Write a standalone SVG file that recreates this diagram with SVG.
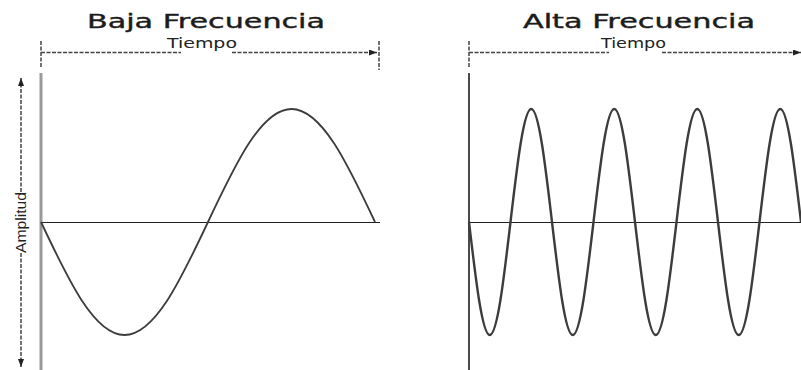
<svg xmlns="http://www.w3.org/2000/svg" width="801" height="370" viewBox="0 0 801 370">
<defs>
<marker id="ah" markerWidth="8" markerHeight="6" refX="8" refY="3" orient="auto" markerUnits="userSpaceOnUse">
<path d="M0,0 L8,3 L0,6 Z" fill="#222"/>
</marker>
<style>
.title{font-family:"DejaVu Sans",Verdana,sans-serif;font-size:20px;fill:#1c1c1c;stroke:#1c1c1c;stroke-width:0.4}
.small{font-family:"DejaVu Sans",Verdana,sans-serif;font-size:13.5px;fill:#222}
.amp{font-family:"Liberation Sans",Arial,sans-serif;font-size:15px;fill:#222}
.dash{stroke:#444;stroke-width:1.5;stroke-dasharray:4 1.5;fill:none}
.axis{stroke:#222;stroke-width:1.2;fill:none}
.wave{fill:none;stroke:#3c3c3c;stroke-linejoin:round}
</style>
</defs>
<rect width="801" height="370" fill="#fff"/>

<g id="titles">
<text class="title" x="87" y="28" textLength="238" lengthAdjust="spacingAndGlyphs">Baja Frecuencia</text>
<text class="title" x="523" y="28" textLength="232" lengthAdjust="spacingAndGlyphs">Alta Frecuencia</text>
</g>

<g id="left-panel">
<line x1="41" y1="41" x2="41" y2="67" class="dash"/>
<line x1="379" y1="41" x2="379" y2="70" class="dash"/>
<line x1="41" y1="73" x2="41" y2="370" stroke="#9a9a9a" stroke-width="3"/>
<line x1="41" y1="222.5" x2="380" y2="222.5" class="axis"/>
<text class="small" x="167" y="48" textLength="70" lengthAdjust="spacingAndGlyphs">Tiempo</text>
<line x1="21" y1="192" x2="21" y2="78" class="dash" stroke-dasharray="3 1.5" marker-end="url(#ah)"/>
<line x1="21" y1="253" x2="21" y2="367" class="dash" stroke-dasharray="3 1.5" marker-end="url(#ah)"/>
<text class="amp" transform="translate(26,222.5) rotate(-90)" text-anchor="middle" textLength="61" lengthAdjust="spacingAndGlyphs">Amplitud</text>
<path class="wave" stroke-width="1.8" d="M41,222 C68.23,279.89 94.28,335 124.5,335 S180.77,279.89 208,222 S261.28,109 291.5,109 S347.77,164.11 375,222"/>
</g>

<g id="right-panel">
<line x1="469" y1="41" x2="469" y2="67" class="dash"/>
<line x1="469" y1="73" x2="469" y2="370" stroke="#4a4a4a" stroke-width="2"/>
<line x1="469" y1="222.5" x2="801" y2="222.5" class="axis"/>
<text class="small" x="601" y="48" textLength="65" lengthAdjust="spacingAndGlyphs">Tiempo</text>
<path class="wave" stroke-width="2.4" d="M469,222 C475.77,279.89 482.24,335 489.75,335 S503.73,279.89 510.5,222 S523.74,109 531.25,109 S545.23,164.11 552,222 S565.24,335 572.75,335 S586.73,279.89 593.5,222 S606.74,109 614.25,109 S628.23,164.11 635,222 S648.24,335 655.75,335 S669.73,279.89 676.5,222 S689.74,109 697.25,109 S711.23,164.11 718,222 S731.24,335 738.75,335 S752.73,279.89 759.5,222 S772.74,109 780.25,109 S794.23,164.11 801,222"/>
</g>

<g id="connectors">
<line x1="41" y1="52.5" x2="181" y2="52.5" class="dash"/>
<line x1="232" y1="52.5" x2="377" y2="52.5" class="dash" marker-end="url(#ah)"/>
<line x1="469" y1="52.5" x2="609" y2="52.5" class="dash"/>
<line x1="662" y1="52.5" x2="801" y2="52.5" class="dash" marker-end="url(#ah)"/>
</g>
</svg>
